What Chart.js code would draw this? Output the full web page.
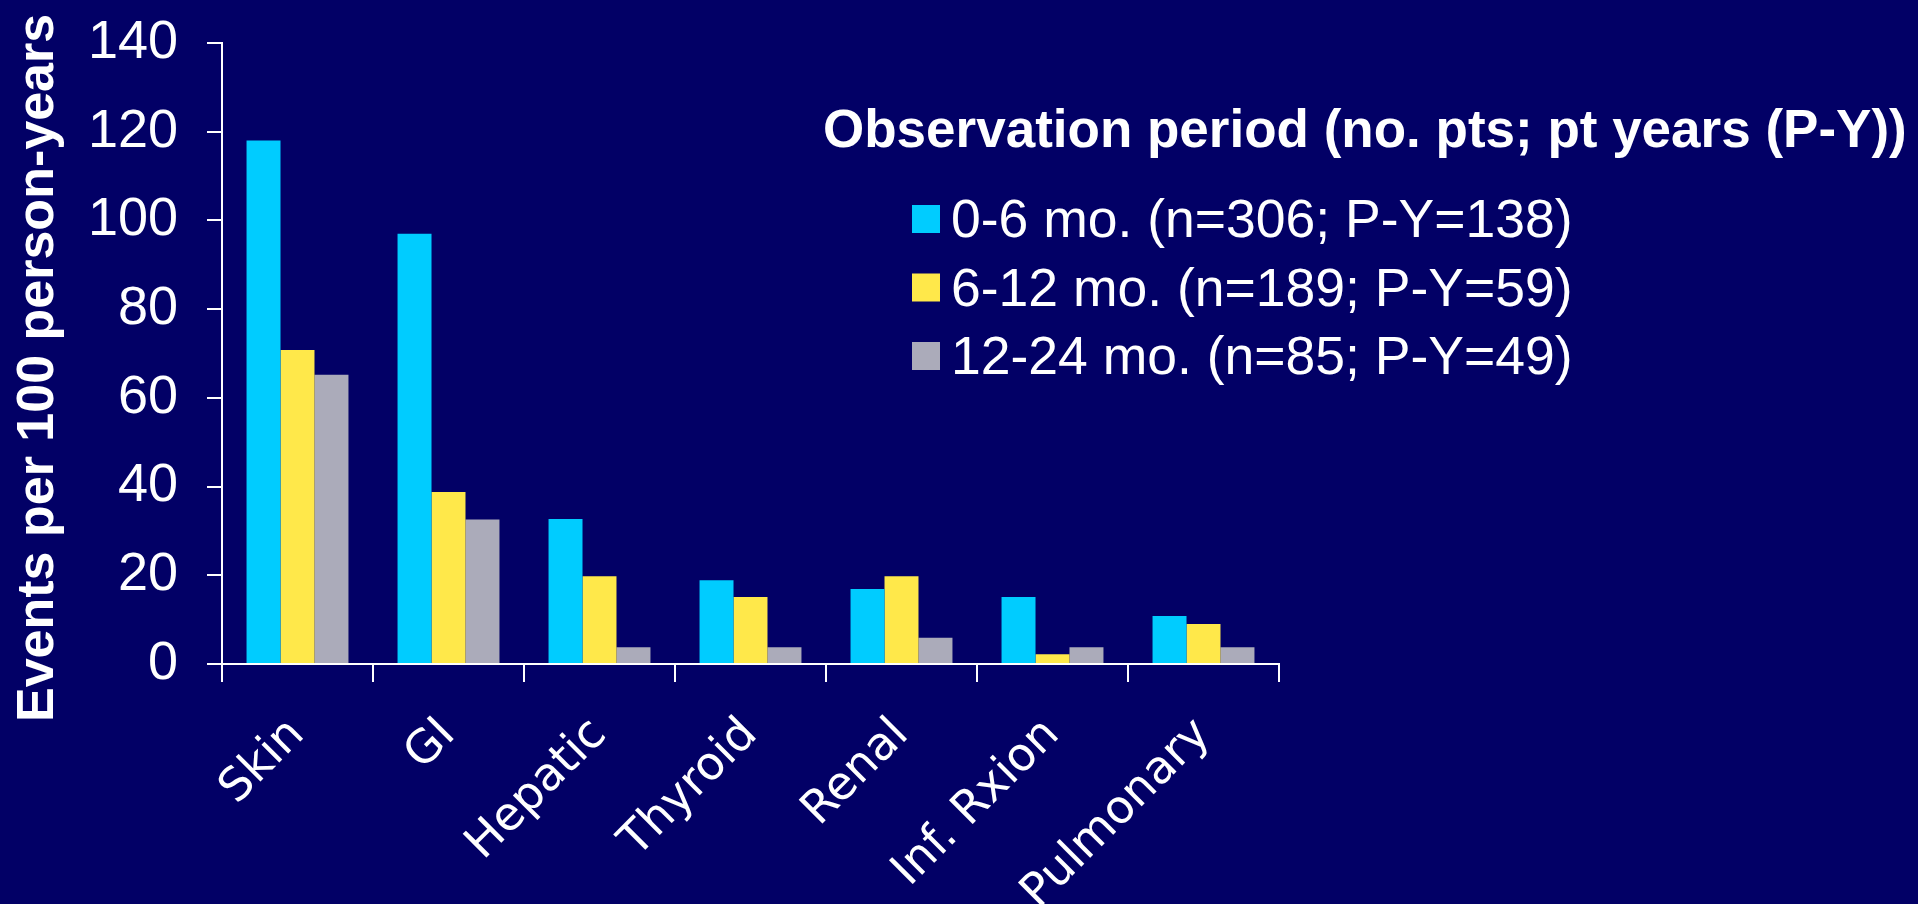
<!DOCTYPE html>
<html>
<head>
<meta charset="utf-8">
<title>Adverse events by organ system</title>
<script src="https://cdn.jsdelivr.net/npm/chart.js@4.4.1/dist/chart.umd.min.js"></script>
<style>
  html, body { margin: 0; padding: 0; background: #020066; overflow: hidden; }
  #wrap { width: 1918px; height: 904px; }
</style>
</head>
<body>
<div id="wrap"><canvas id="chart" width="1918" height="904"></canvas></div>
<script>
// Organ systems on the x axis
const categories = ['Skin', 'GI', 'Hepatic', 'Thyroid', 'Renal', 'Inf. Rxion', 'Pulmonary'];

// Events per 100 person-years for each observation period
const rate0to6 = [118, 97, 32.7, 18.9, 16.9, 15.1, 10.8];
const rate6to12 = [70.8, 38.8, 19.8, 15.1, 19.8, 2.2, 9.0];
const rate12to24 = [65.2, 32.6, 3.8, 3.8, 5.9, 3.8, 3.8];

// Series names
const seriesLabels = [
  '0-6 mo. (n=306; P-Y=138)',
  '6-12 mo. (n=189; P-Y=59)',
  '12-24 mo. (n=85; P-Y=49)'
];
const legendTitle = 'Observation period (no. pts; pt years (P-Y))';
// two trailing spaces nudge the centred, rotated title a little lower
const yAxisTitle = 'Events per 100 person-years  ';
const yTicks = [0, 20, 40, 60, 80, 100, 120, 140];

const BG = '#020066';
const colors = ['#00CCFF', '#FFE84A', '#ABABBA'];

// Solid slide background
const backgroundPlugin = {
  id: 'slideBackground',
  beforeDraw(chart) {
    const ctx = chart.ctx;
    ctx.save();
    ctx.fillStyle = BG;
    ctx.fillRect(0, 0, chart.width, chart.height);
    ctx.restore();
  }
};

// Legend block with heading, drawn at the upper right
const legendPlugin = {
  id: 'periodLegend',
  afterDraw(chart) {
    const ctx = chart.ctx;
    ctx.save();
    ctx.fillStyle = '#FFFFFF';
    ctx.textAlign = 'left';
    ctx.textBaseline = 'alphabetic';
    ctx.font = 'bold 53px "Liberation Sans", Arial, sans-serif';
    ctx.fillText(legendTitle, 823, 147);

    ctx.font = '53.5px "Liberation Sans", Arial, sans-serif';
    chart.data.datasets.forEach((ds, i) => {
      const rowMid = 219 + i * 68.5;
      ctx.fillStyle = ds.backgroundColor;
      ctx.fillRect(912, rowMid - 14, 28, 28);
      ctx.fillStyle = '#FFFFFF';
      ctx.fillText(ds.label, 951, rowMid + 18);
    });
    ctx.restore();
  }
};

const chart = new Chart(document.getElementById('chart'), {
  type: 'bar',
  data: {
    labels: categories,
    datasets: [
      { label: seriesLabels[0], data: rate0to6, backgroundColor: colors[0] },
      { label: seriesLabels[1], data: rate6to12, backgroundColor: colors[1] },
      { label: seriesLabels[2], data: rate12to24, backgroundColor: colors[2] }
    ]
  },
  plugins: [backgroundPlugin, legendPlugin],
  options: {
    responsive: false,
    animation: false,
    layout: { padding: { left: 0, top: 43, right: 639, bottom: 0 } },
    datasets: {
      bar: { barPercentage: 1.0, categoryPercentage: 0.675, borderWidth: 0 }
    },
    plugins: {
      legend: { display: false },
      tooltip: { enabled: false }
    },
    scales: {
      x: {
        grid: {
          display: true,
          drawOnChartArea: false,
          drawTicks: true,
          tickLength: 18,
          color: '#FFFFFF',
          lineWidth: 2
        },
        border: { display: true, color: '#FFFFFF', width: 2 },
        ticks: {
          color: '#FFFFFF',
          font: { family: '"DejaVu Sans", Verdana, sans-serif', size: 46 },
          minRotation: 45,
          maxRotation: 45,
          autoSkip: false,
          padding: 26
        },
        afterFit(scale) { scale.height = 240; }
      },
      y: {
        min: 0,
        max: 140,
        afterBuildTicks(scale) { scale.ticks = yTicks.map(v => ({ value: v })); },
        grid: {
          display: true,
          drawOnChartArea: false,
          drawTicks: true,
          tickLength: 15,
          color: '#FFFFFF',
          lineWidth: 2
        },
        border: { display: true, color: '#FFFFFF', width: 2 },
        ticks: {
          color: '#FFFFFF',
          font: { family: '"Liberation Sans", Arial, sans-serif', size: 54 },
          padding: 29
        },
        title: {
          display: true,
          text: yAxisTitle,
          color: '#FFFFFF',
          font: { family: '"Liberation Sans", Arial, sans-serif', size: 52, weight: 'bold' },
          padding: { top: 7, bottom: 0 }
        },
        afterFit(scale) {
          scale.width = 222;
          // keep the plot top fixed by the layout padding alone
          scale.paddingTop = 0;
          scale.paddingBottom = 0;
        }
      }
    }
  }
});
</script>
</body>
</html>
